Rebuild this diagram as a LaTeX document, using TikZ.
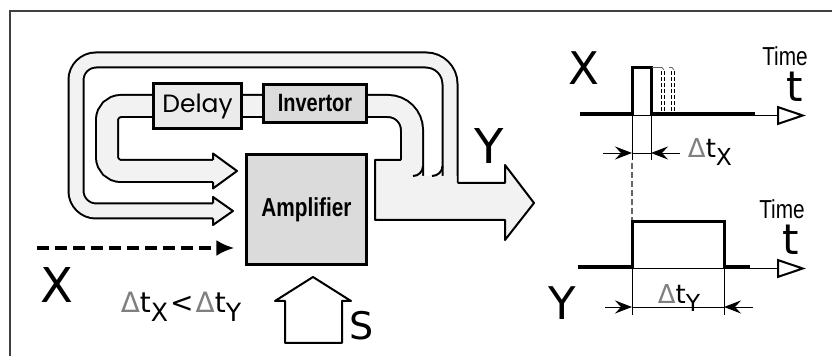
\documentclass[tikz,border=0pt]{standalone}
\usepackage{fontspec}
\setmainfont{DejaVu Sans}
\newfontfamily\narrowfont[FakeStretch=0.8]{Liberation Sans}
\newfontfamily\roundfont{Poppins}
\usetikzlibrary{arrows.meta}
\definecolor{pipegray}{gray}{0.95}
\definecolor{delaygray}{gray}{0.92}
\definecolor{ampgray}{gray}{0.86}
\newcommand{\dtsub}[1]{{\color{black!50}Δ}t\raisebox{-0.32em}{\scalebox{0.9}{#1}}}
\begin{document}
\begin{tikzpicture}[x=0.5pt,y=-0.5pt,
 block/.style={draw,line width=1.6pt,inner sep=0pt},
 outline/.style={line width=1pt,line join=round},
 sig/.style={line width=1.5pt},
 taxis/.style={line width=0.6pt,-{Triangle[open,length=14.5pt,width=9.5pt,line width=1pt]}},
 ext/.style={line width=0.45pt},
 dim/.style={line width=0.45pt,-{Stealth[length=8.5pt,width=6.5pt,inset=3pt]}},
 txt/.style={inner sep=0pt}]
\useasboundingbox (0,0) rectangle (832,356);
\draw[line width=0.8pt,black!75] (10,356) -- (10,11) -- (832,11);
\foreach \w/\c in {2pt/black,0pt/pipegray}{
 \draw[draw=\c,line width=6.5pt+\w] (213,211) [rounded corners=10pt] -- (76,211) -- (76,60) [rounded corners=12pt] -- (450,60) [rounded corners=17pt] -- (450,195);
 \draw[draw=\c,line width=10pt+\w] (213,171) [rounded corners=7pt] -- (107,171) -- (107,106) [rounded corners=12pt] -- (412,106) [rounded corners=18pt] -- (412,178);
}
\fill[pipegray] (213,153.5) -- (237,171) -- (213,188.5) -- cycle;
\draw[outline] (213,160) -- (213,153.5) -- (237,171) -- (213,188.5) -- (213,182);
\fill[pipegray] (213,197) -- (233,211) -- (213,225) -- cycle;
\draw[outline] (213,203.5) -- (213,197) -- (233,211) -- (213,225) -- (213,218.5);
\fill[pipegray] (375,160) -- (402,160) -- (402,176) -- (456.5,176) -- (456.5,183) -- (505,183) -- (505,165) -- (534,203) -- (505,240) -- (505,220) -- (375,220) -- cycle;
\draw[outline] (401,160) -- (375,160) -- (375,220) -- (505,220) -- (505,240) -- (534,203) -- (505,165) -- (505,183) -- (457.5,183);
\draw[outline] (423,166) to[out=-90,in=0] (413,176);
\draw[outline] (442.5,166) to[out=-90,in=0] (432,176);
\node[block,fill=delaygray,minimum width=43.9pt,minimum height=22.4pt,font=\roundfont\fontsize{12.5}{12.5}\selectfont] (delay) at (197.5,106) {Delay};
\node[block,fill=ampgray,minimum width=51.4pt,minimum height=18.9pt,font=\narrowfont\bfseries\fontsize{12.5}{12.5}\selectfont] (inv) at (315,103.5) {Invertor};
\node[block,fill=ampgray,minimum width=59.9pt,minimum height=54.9pt,font=\narrowfont\bfseries\fontsize{13}{13}\selectfont] (amp) at (306.5,209.5) {Amplifier};
\coordinate (xin) at (37,248);
\draw[line width=2pt,dash pattern=on 6pt off 3pt,-{Latex[length=9pt,width=8pt]},shorten >=5.3pt] (xin) -- (amp.west |- xin);
\draw[outline,fill=white] (285,343) -- (285,301) -- (275,301) -- (313,277) -- (351,301) -- (342,301) -- (342,343) -- cycle;
\node[txt,font=\fontsize{24}{24}\selectfont] (xleft) at (57,285) {X};
\node[txt,font=\fontsize{14}{14}\selectfont] (cond) at (181,307) {\dtsub{X}\kern1pt<\kern1pt\dtsub{Y}};
\node[txt,font=\fontsize{19}{19}\selectfont] (slab) at (362,326) {S};
\node[txt,font=\fontsize{24}{24}\selectfont] (yout) at (489,146) {Y};
\draw[taxis] (580,115.5) -- (806,115.5);
\draw[sig] (580,113.5) -- (632,113.5) -- (632,68) -- (651,68) -- (651,113.5) -- (755,113.5);
\foreach \gx in {661,664,671,674}{\draw[line width=0.4pt,dash pattern=on 2pt off 1pt] (\gx,71) -- (\gx,112);}
\draw[line width=0.4pt,black!60] (652,67.5) -- (662,67.5) -- (664,70) (669,67.5) -- (672,67.5) -- (674,70);
\draw[ext] (632,113) -- (632,160) (651,113) -- (651,160);
\draw[dim] (603,153) -- (632,153);
\draw[dim] (680,153) -- (651,153);
\draw[ext] (632,153) -- (651,153);
\draw[line width=0.6pt,black!60,dash pattern=on 3pt off 1.5pt] (632,163) -- (632,220);
\draw[taxis] (578,268.5) -- (806,268.5);
\draw[sig] (578,266.5) -- (632,266.5) -- (632,222) -- (724,222) -- (724,266.5) -- (750,266.5);
\draw[ext] (632,266) -- (632,315) (724,266) -- (724,315);
\draw[dim] (605,307) -- (632,307);
\draw[dim] (753,307) -- (724,307);
\draw[ext] (632,307) -- (724,307);
\node[txt,font=\fontsize{22.5}{22.5}\selectfont] (xsig) at (584,68) {X};
\node[txt,font=\fontsize{22.5}{22.5}\selectfont] (ysig) at (562,303) {Y};
\node[txt,font=\narrowfont\fontsize{13}{13}\selectfont] (time1) at (785,56) {Time};
\node[txt,font=\fontsize{21}{21}\selectfont] (t1) at (795,87) {t};
\node[txt,font=\narrowfont\fontsize{13}{13}\selectfont] (time2) at (782,209) {Time};
\node[txt,font=\fontsize{21}{21}\selectfont] (t2) at (791,240) {t};
\node[txt,font=\fontsize{13}{13}\selectfont] (dtx) at (710,152) {\dtsub{X}};
\node[txt,font=\fontsize{13}{13}\selectfont] (dty) at (679,298) {\dtsub{Y}};
\end{tikzpicture}
\end{document}
